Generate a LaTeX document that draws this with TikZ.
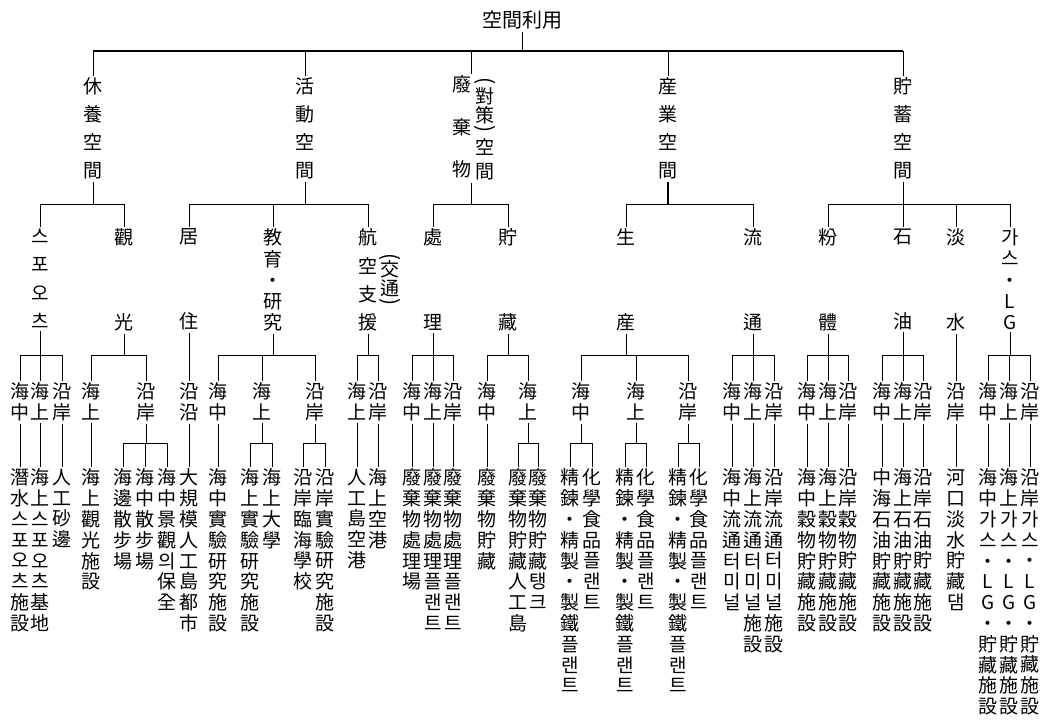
\documentclass[tikz,border=0pt]{standalone}
\usepackage{fontspec}
\usepackage{graphicx}
\newfontfamily\cjk{Noto Sans CJK KR}
\newcommand\busline[3]{\draw (#2.north) -- (#2.north|-#1) -- (#3.north|-#1) -- (#3.north);}
\newcommand\dropto[2]{\draw (#2.north) -- (#2.north|-#1);}
\newcommand\upto[2]{\draw (#2.south) -- (#2.south|-#1);}
\newcommand\lthree[3]{\node[vs=21] (#1) at (#2,380.5) {#3};}
\newcommand\lleaf[3]{\node[vs] (#1) at (#2,466.5) {#3};}
\newcommand\ltwo[4]{\node[vs=#3] (#1) at (#2,226.5) {#4};}
\begin{document}
\begin{tikzpicture}[x=1pt,y=-1pt,line width=0.8pt,
  vs/.style={inner xsep=0pt,inner ysep=2pt,align=center,anchor=north,font=\cjk\fontsize{19}{#1}\selectfont},
  vs/.default=20.8,
  par/.style={inner sep=0pt,font=\cjk\fontsize{21}{22}\selectfont}]
\useasboundingbox (0,0) rectangle (1050,723);
\coordinate (b0) at (0,51);
\coordinate (b1) at (0,204);
\coordinate (b2) at (0,355);
\coordinate (b3) at (0,443);
% root
\node[inner sep=2pt,font=\cjk\fontsize{20}{24}\selectfont] (root) at (522,20) {空間利用};
% level 1
\node[vs=28] (A) at (93,75.5) {休\\養\\空\\間};
\node[vs=28] (B) at (305,75.5) {活\\動\\空\\間};
\node[vs=42.5] (Cl) at (462,73.5) {廢\\棄\\物};
\node[par] (Cpa) at (485,81) {\rotatebox{-90}{(}};
\node[vs=19] (Cm) at (485,85.5) {對\\策};
\node[par] (Cpb) at (485,129) {\rotatebox{-90}{)}};
\node[vs=24] (Cr) at (485,136.5) {空\\間};
\coordinate (Ct) at (471,74);
\coordinate (Cb) at (471,183);
\node[vs=28] (D) at (668,75.5) {産\\業\\空\\間};
\node[vs=28] (E) at (903,75.5) {貯\\蓄\\空\\間};
\draw[line width=1.2pt] (A.north|-b0) -- (E.north|-b0);
\upto{b0}{root}
\dropto{b0}{A}\dropto{b0}{B}\dropto{b0}{D}\dropto{b0}{E}
\draw (Ct) -- (Ct|-b0);
% level 2
\ltwo{A1}{40}{28.33}{스\\포\\오\\츠}
\ltwo{A2}{124}{85}{觀\\光}
\ltwo{B1}{189}{85}{居\\住}
\ltwo{B2}{273}{21.25}{教\\育\\・\\研\\究}
\ltwo{B3}{368}{28.33}{航\\空\\支\\援}
\node[par] (Bpa) at (390,257) {\rotatebox{-90}{(}};
\node[vs=19] (Bm) at (390,258.5) {交\\通};
\node[par] (Bpb) at (390,302) {\rotatebox{-90}{)}};
\ltwo{C1}{433}{85}{處\\理}
\ltwo{C2}{508}{85}{貯\\藏}
\ltwo{D1}{626}{85}{生\\産}
\ltwo{D2}{753}{85}{流\\通}
\ltwo{E1}{828}{85}{粉\\體}
\ltwo{E2}{903}{85}{石\\油}
\ltwo{E3}{956}{85}{淡\\水}
\ltwo{E4}{1010}{21.25}{가\\스\\・\\L\\G}
\upto{b1}{A}\busline{b1}{A1}{A2}
\upto{b1}{B}\busline{b1}{B1}{B3}\dropto{b1}{B2}
\draw (Cb) -- (Cb|-b1);\busline{b1}{C1}{C2}
\draw[line width=1.2pt] (D.south) -- (D.south|-b1);\busline{b1}{D1}{D2}
\upto{b1}{E}\busline{b1}{E1}{E4}\dropto{b1}{E2}\dropto{b1}{E3}
% level 3
\lthree{A1a}{20}{海\\中}\lthree{A1b}{40}{海\\上}\lthree{A1c}{62}{沿\\岸}
\lthree{A2a}{91}{海\\上}\lthree{A2b}{146}{沿\\岸}
\lthree{B1a}{189}{沿\\沿}
\lthree{B2a}{218}{海\\中}\lthree{B2b}{262}{海\\上}\lthree{B2c}{315}{沿\\岸}
\lthree{B3a}{357}{海\\上}\lthree{B3b}{378}{沿\\岸}
\lthree{C1a}{412}{海\\中}\lthree{C1b}{433}{海\\上}\lthree{C1c}{453}{沿\\岸}
\lthree{C2a}{487}{海\\中}\lthree{C2b}{528}{海\\上}
\lthree{D1a}{581}{海\\中}\lthree{D1b}{636}{海\\上}\lthree{D1c}{688}{沿\\岸}
\lthree{D2a}{732}{海\\中}\lthree{D2b}{753}{海\\上}\lthree{D2c}{774}{沿\\岸}
\lthree{E1a}{807}{海\\中}\lthree{E1b}{828}{海\\上}\lthree{E1c}{848}{沿\\岸}
\lthree{E2a}{882}{海\\中}\lthree{E2b}{903}{海\\上}\lthree{E2c}{923}{沿\\岸}
\lthree{E3a}{956}{沿\\岸}
\lthree{E4a}{988}{海\\中}\lthree{E4b}{1009}{海\\上}\lthree{E4c}{1030}{沿\\岸}
\upto{b2}{A1}\busline{b2}{A1a}{A1c}\dropto{b2}{A1b}
\upto{b2}{A2}\busline{b2}{A2a}{A2b}
\draw (B1.south) -- (B1a.north);
\upto{b2}{B2}\busline{b2}{B2a}{B2c}\dropto{b2}{B2b}
\upto{b2}{B3}\busline{b2}{B3a}{B3b}
\upto{b2}{C1}\busline{b2}{C1a}{C1c}\dropto{b2}{C1b}
\upto{b2}{C2}\busline{b2}{C2a}{C2b}
\upto{b2}{D1}\busline{b2}{D1a}{D1c}\dropto{b2}{D1b}
\upto{b2}{D2}\busline{b2}{D2a}{D2c}\dropto{b2}{D2b}
\upto{b2}{E1}\busline{b2}{E1a}{E1c}\dropto{b2}{E1b}
\upto{b2}{E2}\busline{b2}{E2a}{E2c}\dropto{b2}{E2b}
\draw (E3.south) -- (E3a.north);
\upto{b2}{E4}\busline{b2}{E4a}{E4c}\dropto{b2}{E4b}
% leaves
\lleaf{L1}{20}{潛\\水\\스\\포\\오\\츠\\施\\設}
\lleaf{L2}{40}{海\\上\\스\\포\\오\\츠\\基\\地}
\lleaf{L3}{62}{人\\工\\砂\\邊}
\lleaf{L4}{91}{海\\上\\觀\\光\\施\\設}
\lleaf{L5}{123}{海\\邊\\散\\步\\場}
\lleaf{L6}{145}{海\\中\\散\\步\\場}
\lleaf{L7}{167}{海\\中\\景\\觀\\의\\保\\全}
\lleaf{L8}{189}{大\\規\\模\\人\\工\\島\\都\\市}
\lleaf{L9}{218}{海\\中\\實\\驗\\研\\究\\施\\設}
\lleaf{L10}{250}{海\\上\\實\\驗\\研\\究\\施\\設}
\lleaf{L11}{272}{海\\上\\大\\學}
\lleaf{L12}{303}{沿\\岸\\臨\\海\\學\\校}
\lleaf{L13}{325}{沿\\岸\\實\\驗\\研\\究\\施\\設}
\lleaf{L14}{357}{人\\工\\島\\空\\港}
\lleaf{L15}{378}{海\\上\\空\\港}
\lleaf{L16}{412}{廢\\棄\\物\\處\\理\\場}
\lleaf{L17}{433}{廢\\棄\\物\\處\\理\\플\\랜\\트}
\lleaf{L18}{453}{廢\\棄\\物\\處\\理\\플\\랜\\트}
\lleaf{L19}{487}{廢\\棄\\物\\貯\\藏}
\lleaf{L20}{518}{廢\\棄\\物\\貯\\藏\\人\\工\\島}
\lleaf{L21}{538}{廢\\棄\\物\\貯\\藏\\탱\\크}
\lleaf{L22}{570}{精\\鍊\\・\\精\\製\\・\\製\\鐵\\플\\랜\\트}
\lleaf{L23}{592}{化\\學\\食\\品\\플\\랜\\트}
\lleaf{L24}{625}{精\\鍊\\・\\精\\製\\・\\製\\鐵\\플\\랜\\트}
\lleaf{L25}{646}{化\\學\\食\\品\\플\\랜\\트}
\lleaf{L26}{678}{精\\鍊\\・\\精\\製\\・\\製\\鐵\\플\\랜\\트}
\lleaf{L27}{699}{化\\學\\食\\品\\플\\랜\\트}
\lleaf{L28}{732}{海\\中\\流\\通\\터\\미\\널}
\lleaf{L29}{753}{海\\上\\流\\通\\터\\미\\널\\施\\設}
\lleaf{L30}{774}{沿\\岸\\流\\通\\터\\미\\널\\施\\設}
\lleaf{L31}{807}{海\\中\\穀\\物\\貯\\藏\\施\\設}
\lleaf{L32}{828}{海\\上\\穀\\物\\貯\\藏\\施\\設}
\lleaf{L33}{848}{沿\\岸\\穀\\物\\貯\\藏\\施\\設}
\lleaf{L34}{882}{中\\海\\石\\油\\貯\\藏\\施\\設}
\lleaf{L35}{903}{海\\上\\石\\油\\貯\\藏\\施\\設}
\lleaf{L36}{923}{沿\\岸\\石\\油\\貯\\藏\\施\\設}
\lleaf{L37}{956}{河\\口\\淡\\水\\貯\\藏\\댐}
\lleaf{L38}{988}{海\\中\\가\\스\\・\\L\\G\\・\\貯\\藏\\施\\設}
\lleaf{L39}{1009}{海\\上\\가\\스\\・\\L\\G\\・\\貯\\藏\\施\\設}
\lleaf{L40}{1030}{沿\\岸\\가\\스\\・\\L\\G\\・\\貯\\藏\\施\\設}
% level 3 -> leaves
\draw (A1a.south) -- (L1.north);
\draw (A1b.south) -- (L2.north);
\draw (A1c.south) -- (L3.north);
\draw (A2a.south) -- (L4.north);
\upto{b3}{A2b}\busline{b3}{L5}{L7}\dropto{b3}{L6}
\draw (B1a.south) -- (L8.north);
\draw (B2a.south) -- (L9.north);
\upto{b3}{B2b}\busline{b3}{L10}{L11}
\upto{b3}{B2c}\busline{b3}{L12}{L13}
\draw (B3a.south) -- (L14.north);
\draw (B3b.south) -- (L15.north);
\draw (C1a.south) -- (L16.north);
\draw (C1b.south) -- (L17.north);
\draw (C1c.south) -- (L18.north);
\draw (C2a.south) -- (L19.north);
\upto{b3}{C2b}\busline{b3}{L20}{L21}
\upto{b3}{D1a}\busline{b3}{L22}{L23}
\upto{b3}{D1b}\busline{b3}{L24}{L25}
\upto{b3}{D1c}\busline{b3}{L26}{L27}
\draw (D2a.south) -- (L28.north);
\draw (D2b.south) -- (L29.north);
\draw (D2c.south) -- (L30.north);
\draw (E1a.south) -- (L31.north);
\draw (E1b.south) -- (L32.north);
\draw (E1c.south) -- (L33.north);
\draw (E2a.south) -- (L34.north);
\draw (E2b.south) -- (L35.north);
\draw (E2c.south) -- (L36.north);
\draw (E3a.south) -- (L37.north);
\draw (E4a.south) -- (L38.north);
\draw (E4b.south) -- (L39.north);
\draw (E4c.south) -- (L40.north);
\end{tikzpicture}
\end{document}
